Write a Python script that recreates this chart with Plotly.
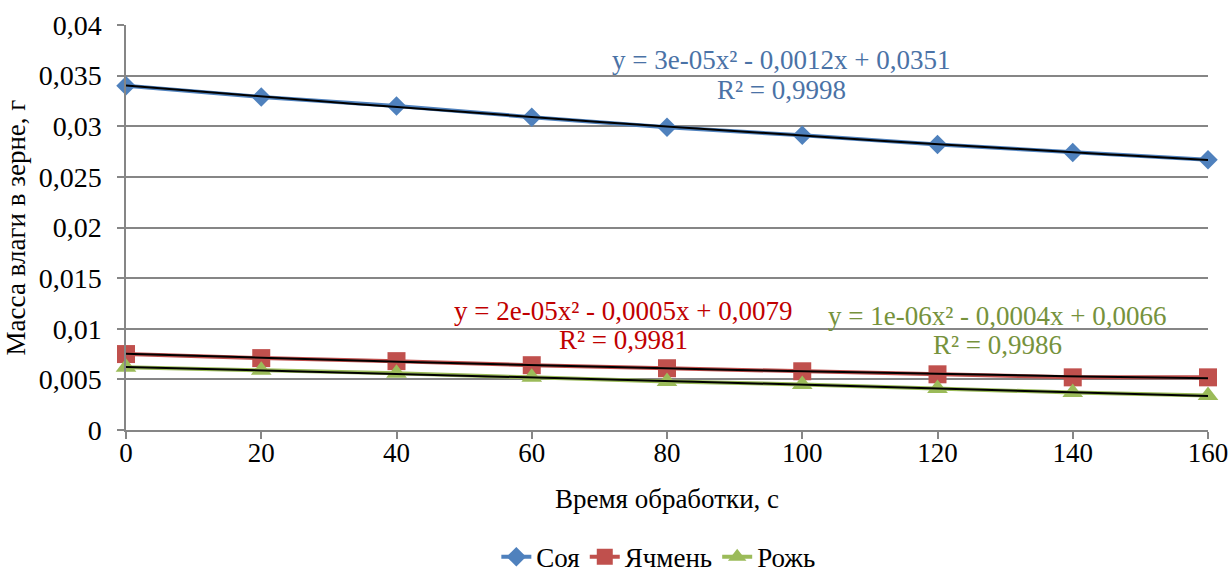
import numpy as np
import plotly.graph_objects as go

# ---- data ----
time_s = [0, 20, 40, 60, 80, 100, 120, 140, 160]
soy = [0.0340, 0.0329, 0.0320, 0.0309, 0.0299, 0.0291, 0.0282, 0.0274, 0.0267]
barley = [0.0075, 0.0071, 0.0068, 0.0064, 0.0061, 0.0058, 0.0055, 0.0052, 0.0052]
rye = [0.0062, 0.0059, 0.0056, 0.0052, 0.0048, 0.0045, 0.0041, 0.0037, 0.0034]
series_names = ["Соя", "Ячмень", "Рожь"]
y_tick_vals = [0, 0.005, 0.01, 0.015, 0.02, 0.025, 0.03, 0.035, 0.04]
y_tick_text = ["0", "0,005", "0,01", "0,015", "0,02", "0,025", "0,03", "0,035", "0,04"]
x_tick_vals = [0, 20, 40, 60, 80, 100, 120, 140, 160]
trend_eqs = ["y = 3e-05x² - 0,0012x + 0,0351", "y = 2e-05x² - 0,0005x + 0,0079", "y = 1e-06x² - 0,0004x + 0,0066"]
trend_r2 = ["R² = 0,9998", "R² = 0,9981", "R² = 0,9986"]

colors = ["#4F81BD", "#C0504D", "#9BBB59"]
text_colors = ["#4A72A6", "#C00000", "#76923C"]
symbols = ["diamond", "square", "triangle-up"]
msizes = [15, 18, 18]
FONT = "Liberation Serif"
FS = 27
TFS = 28

fig = go.Figure()
all_series = [soy, barley, rye]
for name, vals, c, s, ms in zip(series_names, all_series, colors, symbols, msizes):
    fig.add_trace(go.Scatter(x=time_s, y=vals, name=name, mode="lines+markers",
                             line=dict(color=c, width=4),
                             marker=dict(symbol=s, size=ms, color=c),
                             cliponaxis=False))
# polynomial trendlines (degree 2) fitted to data
xs = np.linspace(0, 160, 100)
for vals in all_series:
    coef = np.polyfit(time_s, vals, 2)
    fig.add_trace(go.Scatter(x=xs, y=np.polyval(coef, xs), mode="lines",
                             line=dict(color="black", width=2),
                             showlegend=False, hoverinfo="skip"))

# equation labels
label_pos = [(97, 0.03654, 0.03358), (73.5, 0.01175, 0.00889), (128.8, 0.01126, 0.0084)]
for (xc, ye, yr), eq, r2, tc in zip(label_pos, trend_eqs, trend_r2, text_colors):
    fig.add_annotation(x=xc, y=ye, text=eq, showarrow=False, font=dict(size=FS, color=tc, family=FONT))
    fig.add_annotation(x=xc, y=yr, text=r2, showarrow=False, font=dict(size=FS, color=tc, family=FONT))

fig.update_layout(
    width=1228, height=575,
    margin=dict(l=126, r=20, t=25, b=145, autoexpand=False),
    paper_bgcolor="white", plot_bgcolor="white",
    font=dict(family=FONT, size=FS, color="black"),
    separators=", ",
    showlegend=True,
    legend=dict(orientation="h", x=0.492, xanchor="center", y=-0.314, yanchor="middle",
                font=dict(size=FS, family=FONT), tracegroupgap=0),
)
fig.update_xaxes(range=[0, 160], tickvals=x_tick_vals, showgrid=False,
                 showline=True, linecolor="#868686", linewidth=1.5,
                 ticks="outside", ticklen=7, tickcolor="#868686", tickwidth=1.5,
                 tickfont=dict(size=FS, family=FONT), zeroline=False, automargin=False,
                 ticklabelstandoff=-9, ticklabeloverflow="allow",
                 title=dict(text="Время обработки, с", font=dict(size=FS, family=FONT), standoff=22))
fig.update_yaxes(range=[0, 0.04], tickvals=y_tick_vals, ticktext=y_tick_text,
                 showgrid=True, gridcolor="#868686", gridwidth=1.5,
                 showline=True, linecolor="#868686", linewidth=1.5,
                 ticks="outside", ticklen=7, tickcolor="#868686", tickwidth=1.5,
                 tickfont=dict(size=TFS, family=FONT), zeroline=False, automargin=False,
                 ticklabelstandoff=10,
                 title=dict(text="Масса влаги в зерне, г", font=dict(size=FS, family=FONT), standoff=5))

fig.write_html("out.html")
